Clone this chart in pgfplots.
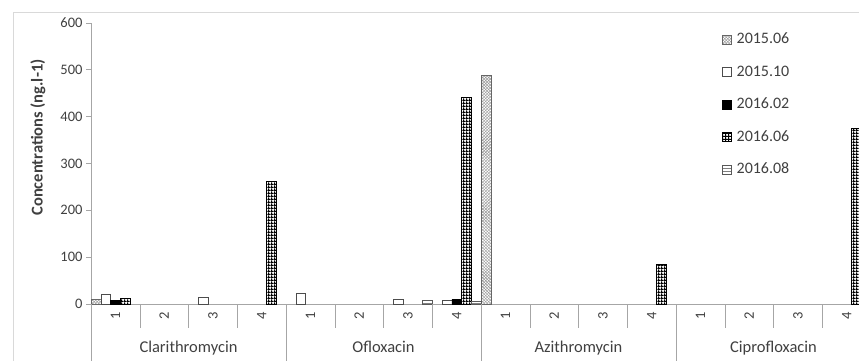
\documentclass[border=0pt]{standalone}
\usepackage{pgfplots}
\pgfplotsset{compat=1.18}
\usepackage{fontspec}
\setmainfont{Carlito}
\usetikzlibrary{patterns}
\definecolor{txt}{HTML}{404040}
\definecolor{axc}{HTML}{A6A6A6}
\definecolor{brd}{HTML}{D9D9D9}
\pgfdeclarepatternformonly{bwgrid}{\pgfqpoint{0pt}{0pt}}{\pgfqpoint{3.3bp}{3.3bp}}{\pgfqpoint{3.3bp}{3.3bp}}{%
\pgfpathrectangle{\pgfqpoint{0pt}{0pt}}{\pgfqpoint{3.3bp}{1.3bp}}%
\pgfpathrectangle{\pgfqpoint{0pt}{0pt}}{\pgfqpoint{1.3bp}{3.3bp}}%
\pgfusepath{fill}}
\begin{document}
\begin{tikzpicture}[x=1bp,y=1bp]
\draw[brd] (13,-10) rectangle (900,348);
\begin{axis}[
  at={(91bp,56bp)}, anchor=south west,
  scale only axis, width=780bp, height=281.3bp,
  xmin=-0.5, xmax=15.5, ymin=0, ymax=600,
  ybar, bar width=0.2, clip=false,
  axis lines*=left,
  axis line style={axc},
  ytick={0,100,...,600},
  xtick={0,...,15},
  xticklabels={1,2,3,4,1,2,3,4,1,2,3,4,1,2,3,4},
  x tick style={draw=none},
  y tick style={axc},
  major tick length=5bp, tick align=outside,
  /pgf/number format/assume math mode=true,
  yticklabel style={font=\fontsize{14.5bp}{16bp}\selectfont, text=txt},
  xticklabel style={font=\fontsize{14.5bp}{16bp}\selectfont, text=txt, rotate=90, anchor=east},
  legend style={draw=none, fill=none, at={(0.809,0.969)}, anchor=north west,
     font=\fontsize{16bp}{19bp}\selectfont, text=txt, row sep=16.5bp, inner sep=0pt,
     nodes={inner sep=0pt, text height=12bp, text depth=4bp},
     /tikz/every odd column/.append style={column sep=5bp}},
  legend cell align=left,
  legend image code/.code={\draw[#1] (0bp,-4.5bp) rectangle (9bp,4.5bp);},
]
\addplot[bar shift=-0.4, pattern=crosshatch, pattern color=gray!80, draw=gray!80!black] coordinates {(0,10) (8,487)};
\addplot[bar shift=-0.2, fill=white, draw=gray!60!black] coordinates {(0,21) (2,15) (4,22) (6,11) (7,8)};
\addplot[bar shift=0, fill=black, draw=black] coordinates {(0,8) (7,10)};
\addplot[bar shift=0.2, pattern=bwgrid, pattern color=black, draw=black] coordinates {(0,12) (3,261) (7,441) (11,85) (15,375)};
\addplot[bar shift=0.4, pattern=horizontal lines, pattern color=gray, draw=gray!70!black] coordinates {(6,8) (7,6)};
\legend{2015.06,2015.10,2016.02,2016.06,2016.08}
\pgfplotsinvokeforeach{0.5,1.5,2.5,4.5,5.5,6.5,8.5,9.5,10.5,12.5,13.5,14.5}{\draw[axc] (axis cs:#1,0) -- ++(0pt,-24bp);}
\pgfplotsinvokeforeach{-0.5,3.5,7.5,11.5,15.5}{\draw[axc] (axis cs:#1,0) -- ++(0pt,-80bp);}
\node[font=\fontsize{16.5bp}{19bp}\selectfont, text=txt, anchor=base, yshift=-48bp] at (axis cs:1.5,0) {Clarithromycin};
\node[font=\fontsize{16.5bp}{19bp}\selectfont, text=txt, anchor=base, yshift=-48bp] at (axis cs:5.5,0) {Ofloxacin};
\node[font=\fontsize{16.5bp}{19bp}\selectfont, text=txt, anchor=base, yshift=-48bp] at (axis cs:9.5,0) {Azithromycin};
\node[font=\fontsize{16.5bp}{19bp}\selectfont, text=txt, anchor=base, yshift=-48bp] at (axis cs:13.5,0) {Ciprofloxacin};
\end{axis}
\node[rotate=90, font=\bfseries\fontsize{16.5bp}{19bp}\selectfont, text=txt] at (38,222.5) {Concentrations (ng.l-1)};
\pgfresetboundingbox
\path[use as bounding box] (0,0) rectangle (859,360);
\end{tikzpicture}
\end{document}
